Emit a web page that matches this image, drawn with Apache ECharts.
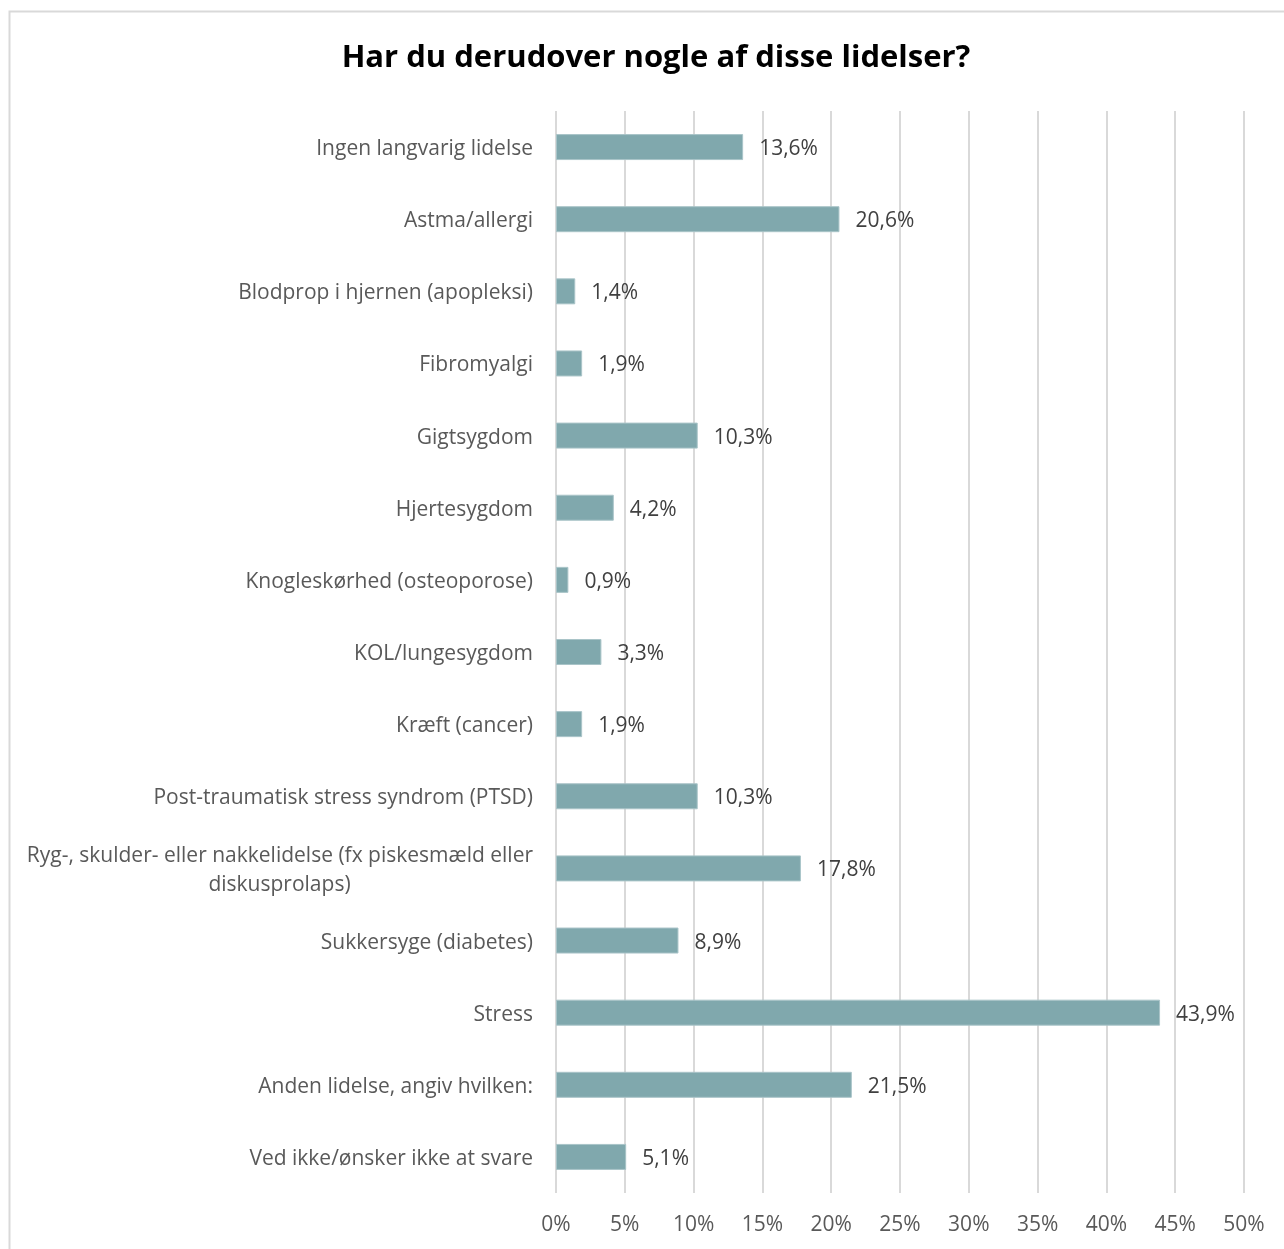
<!DOCTYPE html>
<html>
<head>
<meta charset="UTF-8">
<title>Har du derudover nogle af disse lidelser?</title>
<script src="https://cdn.jsdelivr.net/npm/echarts@6/dist/echarts.min.js"></script>
<style>
	html, body { margin: 0; padding: 0; background: #fff; }
	#chart { width: 1284px; height: 1249px; }
</style>
</head>
<body>
<div id="chart"></div>
<script>
	// kategorier (top til bund) og andele i procent
	var categories = [
		'Ingen langvarig lidelse',
		'Astma/allergi',
		'Blodprop i hjernen (apopleksi)',
		'Fibromyalgi',
		'Gigtsygdom',
		'Hjertesygdom',
		'Knogleskørhed (osteoporose)',
		'KOL/lungesygdom',
		'Kræft (cancer)',
		'Post-traumatisk stress syndrom (PTSD)',
		'Ryg-, skulder- eller nakkelidelse (fx piskesmæld eller\ndiskusprolaps)',
		'Sukkersyge (diabetes)',
		'Stress',
		'Anden lidelse, angiv hvilken:',
		'Ved ikke/ønsker ikke at svare'
	];
	var values = [13.6, 20.6, 1.4, 1.9, 10.3, 4.2, 0.9, 3.3, 1.9, 10.3, 17.8, 8.9, 43.9, 21.5, 5.1];
	var tickValues = [0, 5, 10, 15, 20, 25, 30, 35, 40, 45, 50];

	var fontSize = 21;
	var labelFont = fontSize + 'px "Open Sans"';
	var textColor = '#595959';

	// bredde af foerste linje, saa anden linje kan centreres under den
	function textWidth(str, font) {
		var ctx = document.createElement('canvas').getContext('2d');
		ctx.font = font;
		return Math.ceil(ctx.measureText(str).width);
	}

	var myChart = echarts.init(document.getElementById('chart'));

	var option = {
		backgroundColor: '#fff',
		title: {
			text: 'Har du derudover nogle af disse lidelser?',
			left: 651,
			textAlign: 'center',
			top: 38,
			textStyle: { fontFamily: 'Open Sans', fontSize: 31, fontWeight: 'bold', color: '#000' }
		},
		graphic: [{
			type: 'rect',
			shape: { x: 9.5, y: 11.5, width: 1300, height: 1300 },
			style: { fill: 'none', stroke: '#d9d9d9', lineWidth: 2 },
			silent: true
		}],
		grid: { left: 556, right: 40, top: 111, bottom: 56, containLabel: false },
		xAxis: {
			type: 'value',
			min: 0,
			max: 50,
			interval: 5,
			axisLine: { show: false },
			axisTick: { show: false },
			splitLine: { lineStyle: { color: '#d9d9d9', width: 2 } },
			axisLabel: {
				margin: 22,
				fontFamily: 'Open Sans',
				fontSize: fontSize,
				color: textColor,
				formatter: function (v) { return tickValues.indexOf(v) >= 0 ? v + '%' : ''; }
			}
		},
		yAxis: {
			type: 'category',
			inverse: true,
			data: categories,
			axisLine: { show: false },
			axisTick: { show: false },
			axisLabel: {
				margin: 23,
				padding: [4, 0, 0, 0],
				fontFamily: 'Open Sans',
				fontSize: fontSize,
				color: textColor,
				lineHeight: 29,
				formatter: function (v) {
					if (v.indexOf('\n') < 0) return v;
					var parts = v.split('\n');
					return '{a|' + parts[0] + '}\n{b|' + parts[1] + '}';
				},
				rich: {
					a: { fontFamily: 'Open Sans', fontSize: fontSize, color: textColor, lineHeight: 29 },
					b: {
						fontFamily: 'Open Sans', fontSize: fontSize, color: textColor, lineHeight: 29,
						align: 'center',
						width: textWidth('Ryg-, skulder- eller nakkelidelse (fx piskesmæld eller', labelFont)
					}
				}
			}
		},
		series: [{
			type: 'bar',
			data: values,
			barWidth: 26,
			itemStyle: { color: '#80a8ad', borderColor: '#a9c4c8', borderWidth: 1 },
			label: {
				show: true,
				position: 'right',
				distance: 16,
				offset: [0, 2],
				fontFamily: 'Open Sans',
				fontSize: fontSize,
				color: '#404040',
				formatter: function (p) { return p.value.toFixed(1).replace('.', ',') + '%'; }
			},
			silent: true
		}]
	};
	myChart.setOption(option);
</script>
</body>
</html>
